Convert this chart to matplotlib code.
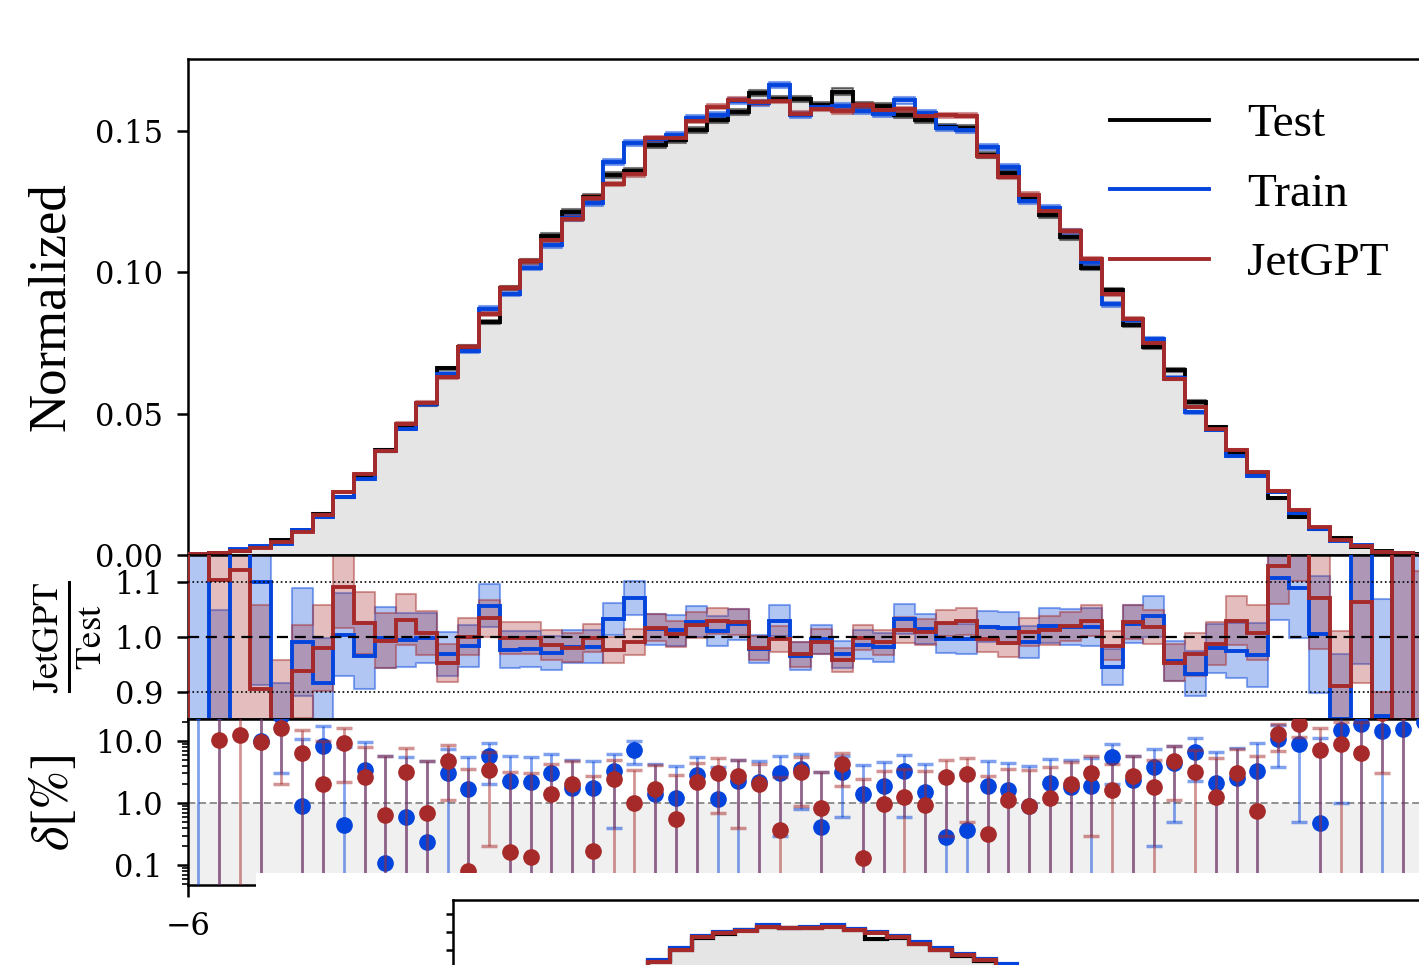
import numpy as np
import matplotlib
matplotlib.use("Agg")
import matplotlib.pyplot as plt
from matplotlib.colors import to_rgba
from matplotlib.patches import Rectangle
from matplotlib.ticker import FixedLocator, FixedFormatter, FormatStrFormatter, NullFormatter, LogLocator

plt.rcParams['font.family'] = ['Liberation Serif', 'DejaVu Serif']
plt.rcParams['mathtext.fontset'] = 'stix'

W, H = 1419, 965
BLUE = '#0344dc'
RED = '#a62a2a'

edges = np.linspace(-6, 6, 61)
centers = 0.5 * (edges[1:] + edges[:-1])

test = [0.0002, 0.0007, 0.0014, 0.0029, 0.0053, 0.0088, 0.0145, 0.0205, 0.028, 0.037,
        0.045, 0.0535, 0.066, 0.0736, 0.0825, 0.0945, 0.104, 0.113, 0.1214, 0.1267,
        0.1345, 0.136, 0.145, 0.1469, 0.1504, 0.154, 0.1569, 0.1634, 0.1614, 0.1613,
        0.1593, 0.164, 0.1593, 0.159, 0.1557, 0.154, 0.1516, 0.1511, 0.1416, 0.1352,
        0.1264, 0.1203, 0.1125, 0.1016, 0.0938, 0.0814, 0.0736, 0.0655, 0.0541, 0.0453,
        0.036, 0.029, 0.0202, 0.0135, 0.0092, 0.006, 0.0029, 0.0013, 0.0006, 0.0002]

ratio_train = [1.30, 0.70, 1.40, 1.100, 0.75, 0.991, 0.916, 1.0045, 0.966, 0.9989,
               0.994, 0.9976, 0.969, 0.983, 1.057, 0.977, 0.978, 0.970, 0.9825, 0.9825,
               1.033, 1.072, 1.014, 1.012, 1.028, 1.0115, 1.023, 0.978, 1.030, 0.965,
               0.9959, 0.968, 0.986, 0.9815, 1.033, 1.015, 0.9972, 0.9963, 1.019, 1.016,
               0.991, 1.021, 1.018, 1.019, 0.945, 1.0235, 1.038, 0.956, 0.933, 0.979,
               0.975, 0.967, 1.108, 1.089, 1.0048, 0.85, 1.188, 0.855, 1.156, 0.80]

ratio_jetgpt = [1.60, 1.105, 1.123, 0.905, 0.84, 0.937, 0.980, 1.092, 1.026, 0.9935,
                1.032, 1.007, 0.952, 1.0008, 1.034, 0.9984, 0.99865, 0.986, 0.980, 0.9983,
                0.976, 0.990, 1.017, 1.0055, 1.022, 1.030, 1.027, 0.980, 0.9963, 0.968,
                0.9917, 0.958, 0.9987, 0.9905, 1.0125, 1.0093, 1.026, 1.029, 0.9968, 0.989,
                1.009, 1.012, 1.020, 1.030, 0.984, 1.027, 1.018, 0.953, 0.968, 0.9875,
                1.030, 1.0074, 1.129, 1.188, 1.072, 0.911, 1.064, 0.72, 1.30, 0.70]

# relative uncertainties in percent
err_test = [60, 45, 30, 20, 14, 10, 8.5, 7.2, 6.2, 5.5,
            5.0, 4.6, 4.2, 3.9, 3.7, 3.5, 3.3, 3.2, 3.1, 3.0,
            2.9, 2.9, 2.8, 2.8, 2.8, 2.7, 2.7, 2.6, 2.7, 2.7,
            2.7, 2.6, 2.7, 2.7, 2.7, 2.7, 2.7, 2.8, 2.8, 2.9,
            3.0, 3.1, 3.2, 3.4, 3.5, 3.4, 3.6, 3.9, 4.4, 4.6,
            5.2, 6.0, 7.0, 8.4, 10.7, 14, 20, 28, 40, 60]
err_train = [50, 50, 8, 17, 22, 10, 9, 7.5, 6.4, 5.6,
             5.0, 4.6, 4.2, 3.9, 3.7, 3.5, 3.3, 3.2, 3.1, 3.0,
             2.9, 2.9, 2.8, 2.8, 2.8, 2.7, 2.7, 2.6, 2.7, 2.7,
             2.7, 2.6, 2.7, 2.7, 2.7, 2.7, 2.7, 2.8, 2.8, 2.9,
             3.0, 3.1, 3.2, 3.4, 3.5, 3.4, 3.6, 3.9, 4.4, 4.6,
             5.2, 6.0, 7.0, 8.4, 10.7, 14, 20, 25, 40, 70]
err_jetgpt = [20, 40, 25, 17, 14, 9, 8, 7, 5.5, 5.0,
              4.5, 4.0, 3.7, 3.4, 3.2, 3.0, 2.9, 2.8, 2.7, 2.6,
              2.5, 2.4, 2.4, 2.3, 2.3, 2.3, 2.3, 2.3, 2.3, 2.3,
              2.3, 2.3, 2.3, 2.3, 2.3, 2.3, 2.3, 2.4, 2.4, 2.5,
              2.5, 2.6, 2.6, 2.7, 2.7, 3.0, 3.1, 3.6, 4.0, 4.0,
              4.4, 5.0, 6.0, 7.2, 8.8, 11, 14, 25, 35, 60]

# second (lower) figure, only its top part is visible
test2 = [0.02, 0.05, 0.08, 0.12, 0.16, 0.19, 0.22, 0.24, 0.25, 0.270,
         0.302, 0.335, 0.346, 0.356, 0.366, 0.361, 0.362, 0.367, 0.358, 0.332,
         0.335, 0.318, 0.302, 0.285, 0.271, 0.255, 0.235, 0.21, 0.18, 0.15]
train2 = [0.02, 0.05, 0.08, 0.12, 0.16, 0.19, 0.22, 0.24, 0.25, 0.272,
          0.306, 0.340, 0.350, 0.358, 0.370, 0.363, 0.364, 0.370, 0.360, 0.350,
          0.340, 0.323, 0.307, 0.290, 0.275, 0.262, 0.24, 0.21, 0.18, 0.15]
jetgpt2 = [0.02, 0.05, 0.08, 0.12, 0.16, 0.19, 0.22, 0.24, 0.25, 0.268,
           0.302, 0.336, 0.347, 0.355, 0.365, 0.362, 0.362, 0.366, 0.357, 0.347,
           0.336, 0.318, 0.302, 0.286, 0.272, 0.256, 0.235, 0.21, 0.18, 0.15]

test = np.array(test)
ratio_train = np.array(ratio_train)
ratio_jetgpt = np.array(ratio_jetgpt)
err_test = np.array(err_test) / 100
err_train = np.array(err_train) / 100
err_jetgpt = np.array(err_jetgpt) / 100
train = test * ratio_train
jetgpt = test * ratio_jetgpt

TICKFONT = {'family': 'DejaVu Serif', 'size': 22}
LW = 2.8


def px_rect(left, top, right, bottom):
    return [left / W, 1 - bottom / H, (right - left) / W, (bottom - top) / H]


def band(ax, lo, hi, color, x=edges, fa=0.3, ea=0.5, z=2):
    ax.fill_between(x, np.append(lo, lo[-1]), np.append(hi, hi[-1]), step='post',
                    facecolor=to_rgba(color, fa), edgecolor=to_rgba(color, ea),
                    lw=1.5, zorder=z)


def style(ax):
    for s in ax.spines.values():
        s.set_linewidth(1.8)
    ax.tick_params(which='major', direction='out', length=8, width=1.8, pad=10)
    ax.tick_params(which='minor', direction='out', length=4.5, width=1.2)
    for lab in ax.get_yticklabels() + ax.get_xticklabels():
        lab.set_fontfamily(TICKFONT['family'])
        lab.set_fontsize(TICKFONT['size'])


fig = plt.figure(figsize=(W / 100, H / 100), dpi=100)
ax_top = fig.add_axes(px_rect(188, 59, 1434, 555))
ax_rat = fig.add_axes(px_rect(188, 555, 1434, 719))
ax_del = fig.add_axes(px_rect(188, 719, 1434, 885))

# main histogram
ax_top.stairs(test, edges, fill=True, color='#e5e5e5', zorder=1)
band(ax_top, test * (1 - err_test * 0.25), test * (1 + err_test * 0.25), 'black', fa=0.3, ea=0.5)
ax_top.stairs(test, edges, color='black', lw=LW, zorder=3, label='Test')
band(ax_top, train * (1 - err_train * 0.25), train * (1 + err_train * 0.25), BLUE)
ax_top.stairs(train, edges, color=BLUE, lw=LW, zorder=4, label='Train')
band(ax_top, jetgpt * (1 - err_jetgpt * 0.25), jetgpt * (1 + err_jetgpt * 0.25), RED)
ax_top.stairs(jetgpt, edges, color=RED, lw=LW, zorder=5, label='JetGPT')
ax_top.set_xlim(-6, 6)
ax_top.set_ylim(0, 0.1755)
ax_top.yaxis.set_major_locator(FixedLocator([0.0, 0.05, 0.10, 0.15]))
ax_top.yaxis.set_major_formatter(FormatStrFormatter('%.2f'))
ax_top.tick_params(axis='x', which='both', bottom=False, labelbottom=False)
style(ax_top)
ax_top.legend(loc='upper left', bbox_to_anchor=(1110 / W, 1 - 103 / H),
              bbox_transform=fig.transFigure, frameon=False, fontsize=34,
              handlelength=2.1, handletextpad=0.8, labelspacing=0.56,
              borderpad=0, borderaxespad=0)

# ratio panel
band(ax_rat, ratio_train * (1 - err_train), ratio_train * (1 + err_train), BLUE, fa=0.3, ea=0.45)
band(ax_rat, ratio_jetgpt * (1 - err_jetgpt), ratio_jetgpt * (1 + err_jetgpt), RED, fa=0.3, ea=0.45)
ax_rat.stairs(ratio_train, edges, color=BLUE, lw=LW, zorder=4)
ax_rat.stairs(ratio_jetgpt, edges, color=RED, lw=LW, zorder=5)
ax_rat.axhline(1.0, color='black', ls=(0, (5, 3)), lw=1.6, zorder=6)
ax_rat.axhline(1.1, color='black', ls=':', lw=1.2, zorder=6)
ax_rat.axhline(0.9, color='black', ls=':', lw=1.2, zorder=6)
ax_rat.set_xlim(-6, 6)
ax_rat.set_ylim(0.85, 1.15)
ax_rat.yaxis.set_major_locator(FixedLocator([0.9, 1.0, 1.1]))
ax_rat.yaxis.set_major_formatter(FormatStrFormatter('%.1f'))
ax_rat.tick_params(axis='x', which='both', bottom=False, labelbottom=False)
style(ax_rat)

# delta panel
ax_del.axhspan(1e-4, 1.0, color='#f0f0f0', zorder=0, lw=0)
ax_del.axhline(1.0, color='#888888', ls=(0, (4, 2)), lw=1.3, zorder=1)
for ratio, err, color, z in [(ratio_train, err_train, BLUE, 3), (ratio_jetgpt, err_jetgpt, RED, 4)]:
    d = np.abs(ratio - 1) * 100
    e = err * 100
    lower = d - np.maximum(d - e, 1e-4)
    ax_del.errorbar(centers, d, yerr=[lower, e], fmt='o', color=color, ms=11,
                    ecolor=to_rgba(color, 0.5), elinewidth=2, capsize=5.5,
                    capthick=2.5, zorder=z)
ax_del.set_yscale('log')
ax_del.set_xlim(-6, 6)
ax_del.set_ylim(0.0479, 22.6)
ax_del.yaxis.set_major_locator(FixedLocator([0.1, 1.0, 10.0]))
ax_del.yaxis.set_major_formatter(FormatStrFormatter('%.1f'))
ax_del.yaxis.set_minor_locator(LogLocator(subs=np.arange(2, 10)))
ax_del.yaxis.set_minor_formatter(NullFormatter())
ax_del.xaxis.set_major_locator(FixedLocator([-6, -4, -2, 0, 2, 4, 6]))
ax_del.xaxis.set_major_formatter(FixedFormatter(['\u22126', '', '', '', '', '', '']))
style(ax_del)
ax_del.tick_params(axis='x', length=8.5, pad=10)

fig.text(51 / W, 1 - 307 / H, 'Normalized', rotation=90, ha='center', va='center', fontsize=38)
fig.text(67 / W, 1 - 637 / H, r'$\frac{\mathrm{JetGPT}}{\mathrm{Test}}$', rotation=90,
         ha='center', va='center', fontsize=38)
fig.text(53 / W, 1 - 803 / H, r'$\delta[\%]$', rotation=90, ha='center', va='center', fontsize=38)

# overlapping second figure
fig.add_artist(Rectangle((256 / W, 0), (W - 256) / W, (H - 873) / H,
                         transform=fig.transFigure, facecolor='white', edgecolor='none', zorder=5))
ax2 = fig.add_axes(px_rect(453, 900, 1755, 1058.4), zorder=6)
edges2 = np.arange(len(test2) + 1)
ax2.stairs(test2, edges2, fill=True, color='#e5e5e5', zorder=1)
ax2.stairs(test2, edges2, color='black', lw=3, zorder=3)
ax2.stairs(train2, edges2, color=BLUE, lw=3, zorder=4)
ax2.stairs(jetgpt2, edges2, color=RED, lw=3, zorder=5)
ax2.set_xlim(0, 60)
ax2.set_ylim(0, 0.44)
ax2.yaxis.set_major_locator(FixedLocator([0.30, 0.35, 0.40]))
ax2.tick_params(axis='y', labelleft=False, length=5, width=1.8, direction='out')
ax2.tick_params(axis='x', bottom=False, labelbottom=False)
for s in ax2.spines.values():
    s.set_linewidth(1.8)

fig.savefig('out.png', dpi=100)
